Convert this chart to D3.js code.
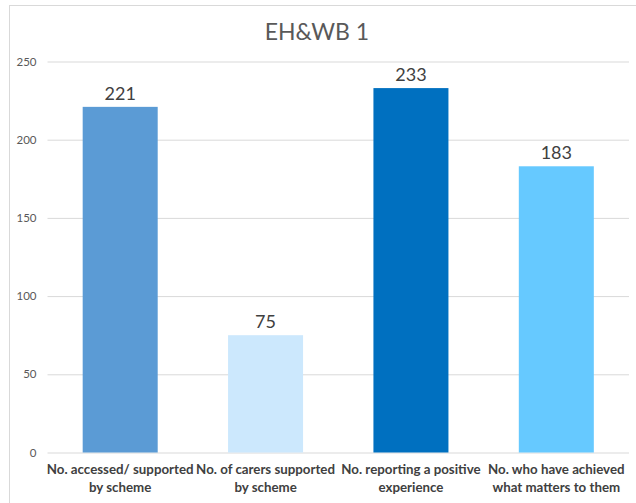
<!DOCTYPE html>
<html><head><meta charset="utf-8">
<script src="https://cdn.jsdelivr.net/npm/d3@7"></script>
<style>body{margin:0;background:#fff}svg{display:block}</style>
</head><body>
<svg id="c" width="636" height="503"></svg>
<script>
const title = "EH&WB 1";
const categories = [
  ["No. accessed/ supported", "by scheme"],
  ["No. of carers supported", "by scheme"],
  ["No. reporting a positive", "experience"],
  ["No. who have achieved", "what matters to them"]
];
const values = [221, 75, 233, 183];
const barColors = ["#5b9bd5", "#cce8fd", "#0070c0", "#66c9ff"];
const yTicks = [0, 50, 100, 150, 200, 250];

const svg = d3.select("#c");
const font = "Lato, 'Open Sans', sans-serif";
const W = 636, H = 503;
const m = {left: 47.5, right: 7, top: 61.5, bottom: 50.5};

svg.append("rect").attr("x", 9.5).attr("y", 5.5).attr("width", 700).attr("height", 600)
  .attr("fill", "none").attr("stroke", "#d9d9d9");

const x = d3.scaleBand().domain(d3.range(values.length)).range([m.left, W - m.right]).paddingInner(0.484).paddingOuter(0.242);
const y = d3.scaleLinear().domain([0, 250]).range([H - m.bottom, m.top]);

const yAxis = d3.axisLeft(y).tickValues(yTicks).tickSize(-(W - m.right - m.left)).tickPadding(11);
const ga = svg.append("g").attr("transform", `translate(${m.left},0)`).call(yAxis);
ga.select(".domain").remove();
ga.selectAll(".tick line").attr("stroke", "#d9d9d9").attr("stroke-width", 1);
ga.selectAll(".tick text").attr("fill", "#595959").attr("font-family", font).attr("font-size", 11.5);

svg.append("text").attr("x", 317).attr("y", 40).attr("text-anchor", "middle")
  .attr("font-family", font).attr("font-size", 23).attr("fill", "#595959").text(title);

svg.selectAll("rect.bar").data(values).join("rect").attr("class", "bar")
  .attr("x", (d, i) => x(i)).attr("width", x.bandwidth())
  .attr("y", d => y(d)).attr("height", d => y(0) - y(d))
  .attr("fill", (d, i) => barColors[i]);

svg.selectAll("text.val").data(values).join("text").attr("class", "val")
  .attr("x", (d, i) => x(i) + x.bandwidth() / 2).attr("y", d => y(d) - 7)
  .attr("text-anchor", "middle").attr("font-family", font).attr("font-size", 18)
  .attr("fill", "#404040").text(d => d);

const xl = svg.selectAll("text.cat").data(categories).join("text").attr("class", "cat")
  .attr("x", (d, i) => x(i) + x.bandwidth() / 2).attr("y", 474)
  .attr("text-anchor", "middle").attr("font-family", font).attr("font-size", 13.3)
  .attr("font-weight", "bold").attr("fill", "#404040");
xl.each(function(d, i) {
  const t = d3.select(this);
  d.forEach((line, j) => {
    t.append("tspan").attr("x", x(i) + x.bandwidth() / 2).attr("dy", j ? 18 : 0).text(line);
  });
});
</script>
</body></html>
